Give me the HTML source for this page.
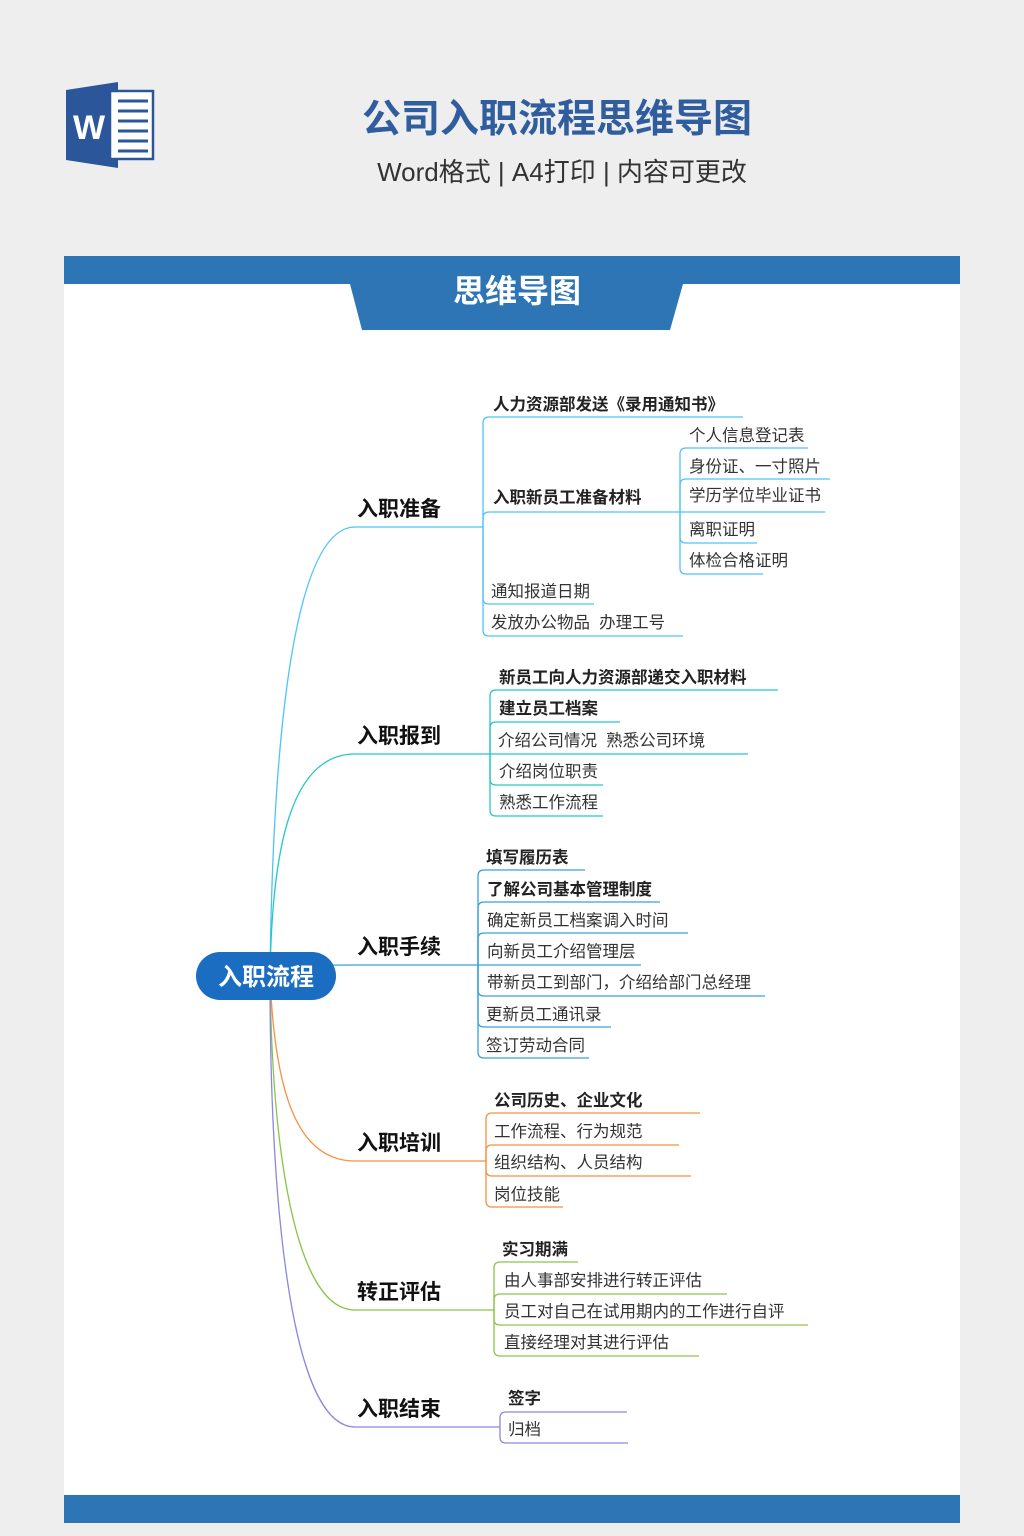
<!DOCTYPE html>
<html><head><meta charset="utf-8"><style>
html,body{margin:0;padding:0;background:#eeeeee;}
svg{display:block;font-family:"Liberation Sans","Noto Sans CJK SC",sans-serif;}
.c{font-size:16.5px;fill:#333;}
.b{font-weight:bold;fill:#222;}
.m{font-size:21px;font-weight:bold;fill:#111;}
path{fill:none;stroke-width:1.3;}
</style></head><body>
<svg width="1024" height="1536" viewBox="0 0 1024 1536">
<rect width="1024" height="1536" fill="#eeeeee"/>
<polygon points="66,90 118,82 118,168 66,160" fill="#2b579a"/>
<rect x="110" y="91" width="43" height="68" fill="#fff" stroke="#2b579a" stroke-width="2.5"/>
<g stroke="#2b579a" stroke-width="3"><line x1="118" y1="101" x2="148" y2="101"/><line x1="118" y1="111" x2="148" y2="111"/><line x1="118" y1="121" x2="148" y2="121"/><line x1="118" y1="131" x2="148" y2="131"/><line x1="118" y1="141" x2="148" y2="141"/><line x1="118" y1="151" x2="148" y2="151"/></g>
<text x="73" y="139" font-size="34" font-weight="bold" fill="#fff">W</text>
<text x="557" y="132" font-size="39" font-weight="bold" fill="#2f5d9e" text-anchor="middle">公司入职流程思维导图</text>
<text x="562" y="181" font-size="26" fill="#333" text-anchor="middle">Word格式 | A4打印 | 内容可更改</text>
<rect x="64" y="256" width="896" height="1267" fill="#fff"/>
<rect x="64" y="256" width="896" height="28" fill="#2e75b6"/>
<polygon points="350,284 683,284 670,330 362,330" fill="#2e75b6"/>
<text x="517" y="302" font-size="32" font-weight="bold" fill="#fff" text-anchor="middle">思维导图</text>
<rect x="64" y="1495" width="896" height="28" fill="#2e75b6"/>
<path d="M270,976 C272,800 285,527 355,527 H483" stroke="#4fc3f7" stroke-width="2"/>
<path d="M270,976 C272,850 290,754 355,754 H490" stroke="#26c6c6" stroke-width="2"/>
<path d="M270,976 C275,965 300,965 355,965 H478" stroke="#3aa0d8" stroke-width="2"/>
<path d="M270,976 C275,1100 300,1161 355,1161 H486" stroke="#f7913d" stroke-width="2"/>
<path d="M270,976 C272,1150 295,1310 355,1310 H494" stroke="#8bc34a" stroke-width="2"/>
<path d="M270,976 C270,1200 290,1427 355,1427 H500" stroke="#8b86e0" stroke-width="2"/>
<rect x="196" y="952" width="140" height="48" rx="24" fill="#1a6dc0"/>
<text x="266" y="985" font-size="24" font-weight="bold" fill="#fff" text-anchor="middle">入职流程</text>
<text x="357" y="516" class="m">入职准备</text>
<text x="357" y="743" class="m">入职报到</text>
<text x="357" y="954" class="m">入职手续</text>
<text x="357" y="1150" class="m">入职培训</text>
<text x="357" y="1299" class="m">转正评估</text>
<text x="357" y="1416" class="m">入职结束</text>
<g stroke="#4fc3f7">
<path d="M483,527 V423 Q483,417 489,417 H743"/>
<path d="M483,527 V518 Q483,512 489,512 H680"/>
<path d="M483,527 V598 Q483,604 489,604 H594"/>
<path d="M483,527 V630 Q483,636 489,636 H683"/>
<path d="M680,512 V454 Q680,448 686,448 H808"/>
<path d="M680,512 V485 Q680,479 686,479 H830"/>
<path d="M680,512 H825"/>
<path d="M680,512 V537 Q680,543 686,543 H757"/>
<path d="M680,512 V568 Q680,574 686,574 H763"/>
</g>
<text x="493" y="410" class="c b">人力资源部发送《录用通知书》</text>
<text x="493" y="503" class="c b">入职新员工准备材料</text>
<text x="491" y="597" class="c">通知报道日期</text>
<text x="491" y="628" class="c">发放办公物品&#160;&#160;办理工号</text>
<text x="689" y="441" class="c">个人信息登记表</text>
<text x="689" y="472" class="c">身份证、一寸照片</text>
<text x="689" y="501" class="c">学历学位毕业证书</text>
<text x="689" y="535" class="c">离职证明</text>
<text x="689" y="566" class="c">体检合格证明</text>
<g stroke="#26c6c6">
<path d="M490,754 V696 Q490,690 496,690 H778"/>
<path d="M490,754 V728 Q490,722 496,722 H620"/>
<path d="M490,754 H748"/>
<path d="M490,754 V779 Q490,785 496,785 H603"/>
<path d="M490,754 V810 Q490,816 496,816 H603"/>
</g>
<text x="499" y="683" class="c b">新员工向人力资源部递交入职材料</text>
<text x="499" y="714" class="c b">建立员工档案</text>
<text x="498" y="746" class="c">介绍公司情况&#160;&#160;熟悉公司环境</text>
<text x="499" y="777" class="c">介绍岗位职责</text>
<text x="499" y="808" class="c">熟悉工作流程</text>
<g stroke="#3aa0d8">
<path d="M478,965 V876 Q478,870 484,870 H585"/>
<path d="M478,965 V908 Q478,902 484,902 H660"/>
<path d="M478,965 V939 Q478,933 484,933 H688"/>
<path d="M478,965 H641"/>
<path d="M478,965 V990 Q478,996 484,996 H765"/>
<path d="M478,965 V1021 Q478,1027 484,1027 H611"/>
<path d="M478,965 V1052 Q478,1058 484,1058 H589"/>
</g>
<text x="486" y="863" class="c b">填写履历表</text>
<text x="487" y="895" class="c b">了解公司基本管理制度</text>
<text x="487" y="926" class="c">确定新员工档案调入时间</text>
<text x="487" y="957" class="c">向新员工介绍管理层</text>
<text x="487" y="988" class="c">带新员工到部门，介绍给部门总经理</text>
<text x="486" y="1020" class="c">更新员工通讯录</text>
<text x="486" y="1051" class="c">签订劳动合同</text>
<g stroke="#f7913d">
<path d="M486,1161 V1119 Q486,1113 492,1113 H700"/>
<path d="M486,1161 V1151 Q486,1145 492,1145 H679"/>
<path d="M486,1161 V1170 Q486,1176 492,1176 H691"/>
<path d="M486,1161 V1201 Q486,1207 492,1207 H563"/>
</g>
<text x="494" y="1106" class="c b">公司历史、企业文化</text>
<text x="494" y="1137" class="c">工作流程、行为规范</text>
<text x="494" y="1168" class="c">组织结构、人员结构</text>
<text x="494" y="1200" class="c">岗位技能</text>
<g stroke="#8bc34a">
<path d="M494,1310 V1268 Q494,1262 500,1262 H578"/>
<path d="M494,1310 V1300 Q494,1294 500,1294 H727"/>
<path d="M494,1310 V1319 Q494,1325 500,1325 H808"/>
<path d="M494,1310 V1350 Q494,1356 500,1356 H699"/>
</g>
<text x="502" y="1255" class="c b">实习期满</text>
<text x="504" y="1286" class="c">由人事部安排进行转正评估</text>
<text x="504" y="1317" class="c">员工对自己在试用期内的工作进行自评</text>
<text x="504" y="1348" class="c">直接经理对其进行评估</text>
<g stroke="#8b86e0">
<path d="M500,1427 V1418 Q500,1412 506,1412 H627"/>
<path d="M500,1427 V1437 Q500,1443 506,1443 H628"/>
</g>
<text x="508" y="1404" class="c b">签字</text>
<text x="508" y="1435" class="c">归档</text>
</svg>
</body></html>
